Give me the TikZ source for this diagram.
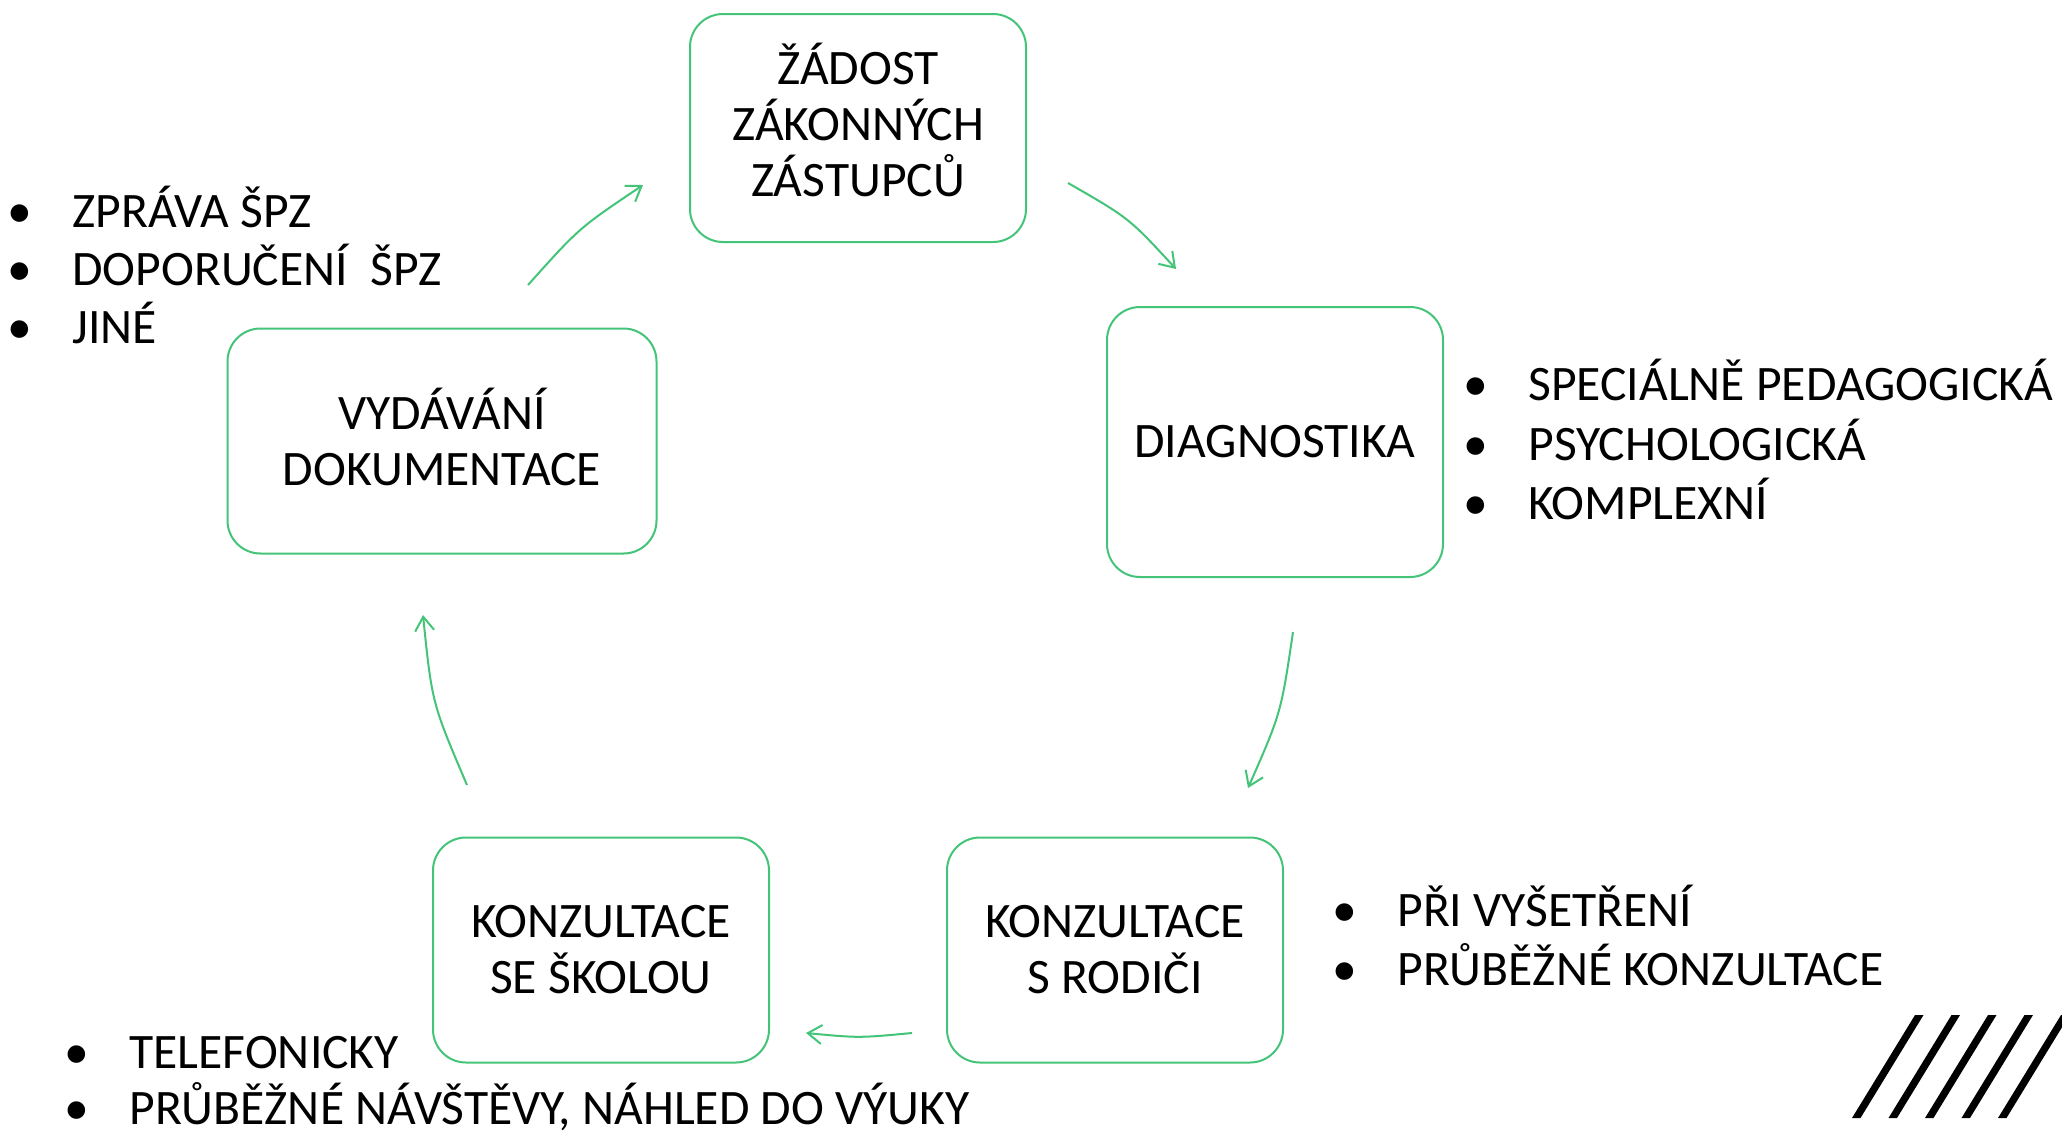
\documentclass[tikz,border=0pt]{standalone}
\usepackage{fontspec}
\setmainfont{Carlito}
\usetikzlibrary{arrows.meta}
\definecolor{grn}{RGB}{68,196,121}
\newcommand{\bul}{\makebox[32.5pt][l]{•}}
\begin{document}
\begin{tikzpicture}[x=0.5pt,y=-0.5pt,
  box/.style={draw=grn, line width=1pt, rounded corners=16.5pt, inner sep=0pt},
  txt/.style={inner sep=0pt, align=center, font=\fontsize{24.8pt}{28pt}\selectfont, text=black},
  lst/.style={anchor=base west, inner sep=0pt, font=\fontsize{24.8pt}{30pt}\selectfont},
  arr/.style={draw=grn, line width=1pt, -{Straight Barb[length=7pt,width=9.5pt]}},
]
\useasboundingbox (0,0) rectangle (2062,1131);
\fill[white] (0,0) rectangle (2062,1131);

% boxes
\node[box, minimum width=168pt, minimum height=114pt] (zad) at (858,128) {};
\node[box, minimum width=168pt, minimum height=135pt] (diag) at (1275,442) {};
\node[box, minimum width=168pt, minimum height=112.5pt] (rod) at (1115,950) {};
\node[box, minimum width=168pt, minimum height=112.5pt] (sko) at (601,950) {};
\node[box, minimum width=214.5pt, minimum height=112.5pt] (vyd) at (442,441) {};

\node[txt, yshift=4pt] (zadt) at (zad.center) {ŽÁDOST\\ZÁKONNÝCH\\ZÁSTUPCŮ};
\node[txt] (diagt) at (diag.center) {DIAGNOSTIKA};
\node[txt] (rodt) at (rod.center) {KONZULTACE\\S RODIČI};
\node[txt] (skot) at (sko.center) {KONZULTACE\\SE ŠKOLOU};
\node[txt, yshift=2pt] (vydt) at (vyd.center) {VYDÁVÁNÍ\\DOKUMENTACE};

% lists
\node[lst] (l1a) at (7,227) {\bul ZPRÁVA ŠPZ};
\node[lst] (l1b) at (7,285) {\bul DOPORUČENÍ~ ŠPZ};
\node[lst] (l1c) at (7,343) {\bul JINÉ};

\node[lst] (l2a) at (1463,400) {\bul SPECIÁLNĚ PEDAGOGICKÁ};
\node[lst] (l2b) at (1463,460) {\bul PSYCHOLOGICKÁ};
\node[lst] (l2c) at (1463,519) {\bul KOMPLEXNÍ};

\node[lst] (l3a) at (1332,926) {\bul PŘI VYŠETŘENÍ};
\node[lst] (l3b) at (1332,985) {\bul PRŮBĚŽNÉ KONZULTACE};

\node[lst] (l4a) at (64,1068) {\bul TELEFONICKY};
\node[lst] (l4b) at (64,1124) {\bul PRŮBĚŽNÉ NÁVŠTĚVY, NÁHLED DO VÝUKY};

% arrows
\coordinate (a1s) at (1068,183); \coordinate (a1c) at (1129,218); \coordinate (a1e) at (1176,269);
\coordinate (a2s) at (1293,632); \coordinate (a2c) at (1281,713); \coordinate (a2e) at (1248,788);
\coordinate (a3s) at (912,1033); \coordinate (a3c) at (859,1038); \coordinate (a3e) at (806,1033);
\coordinate (a4s) at (467,785);  \coordinate (a4c) at (432,703);  \coordinate (a4e) at (423,615);
\coordinate (a5s) at (528,285);  \coordinate (a5c) at (579,228);  \coordinate (a5e) at (643,185);
\draw[arr] (a1s) .. controls (a1c) .. (a1e);
\draw[arr] (a2s) .. controls (a2c) .. (a2e);
\draw[arr] (a3s) .. controls (a3c) .. (a3e);
\draw[arr] (a4s) .. controls (a4c) .. (a4e);
\draw[arr] (a5s) .. controls (a5c) .. (a5e);

% hatching
\begin{scope}
\clip (0,0) rectangle (2062,1131);
\foreach \i in {0,...,4}{
  \fill[black] ({1852+36.5*\i},1118) -- ({1860.5+36.5*\i},1118) -- ({1923.5+36.5*\i},1015) -- ({1915+36.5*\i},1015) -- cycle;
}
\end{scope}
\end{tikzpicture}
\end{document}
